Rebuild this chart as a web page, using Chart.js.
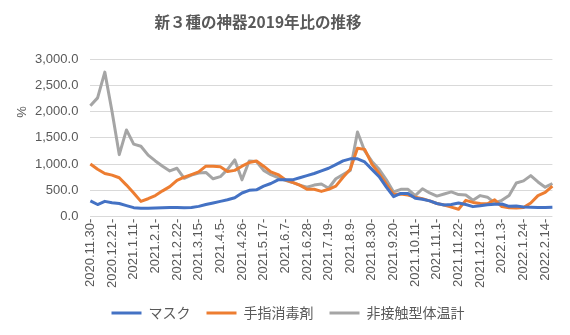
<!DOCTYPE html>
<html lang="ja">
<head>
  <meta charset="UTF-8" />
  <title>新３種の神器2019年比の推移</title>
  <script src="https://cdn.jsdelivr.net/npm/chart.js"></script>
  <style>
    body {
      margin: 0;
      background: #ffffff;
    }
    #chartBox {
      width: 570px;
      height: 335px;
    }
  </style>
</head>
<body>
  <div id="chartBox">
    <canvas id="trendChart"></canvas>
  </div>

  <script>
    const chartTitle = '新３種の神器2019年比の推移';
    const yTitle = '%';

    // weekly, every 3rd one is labelled
    const weeks = [
      '2020.11.30-', '2020.12.7-', '2020.12.14-', '2020.12.21-', '2020.12.28-',
      '2021.1.4-', '2021.1.11-', '2021.1.18-', '2021.1.25-', '2021.2.1-',
      '2021.2.8-', '2021.2.15-', '2021.2.22-', '2021.3.1-', '2021.3.8-',
      '2021.3.15-', '2021.3.22-', '2021.3.29-', '2021.4.5-', '2021.4.12-',
      '2021.4.19-', '2021.4.26-', '2021.5.3-', '2021.5.10-', '2021.5.17-',
      '2021.5.24-', '2021.5.31-', '2021.6.7-', '2021.6.14-', '2021.6.21-',
      '2021.6.28-', '2021.7.5-', '2021.7.12-', '2021.7.19-', '2021.7.26-',
      '2021.8.2-', '2021.8.9-', '2021.8.16-', '2021.8.23-', '2021.8.30-',
      '2021.9.6-', '2021.9.13-', '2021.9.20-', '2021.9.27-', '2021.10.4-',
      '2021.10.11-', '2021.10.18-', '2021.10.25-', '2021.11.1-', '2021.11.8-',
      '2021.11.15-', '2021.11.22-', '2021.11.29-', '2021.12.6-', '2021.12.13-',
      '2021.12.20-', '2021.12.27-', '2022.1.3-', '2022.1.10-', '2022.1.17-',
      '2022.1.24-', '2022.1.31-', '2022.2.7-', '2022.2.14-', '2022.2.21-'
    ];

    const seriesNames = ['マスク', '手指消毒剤', '非接触型体温計'];

    const mask = [
      300, 230, 290, 265, 250, 210, 170, 160, 160, 165,
      170, 175, 175, 170, 175, 195, 230, 260, 290, 320,
      360, 450, 500, 510, 580, 630, 700, 700, 700, 740,
      780, 820, 870, 920, 990, 1060, 1100, 1100, 1040, 900,
      760, 560, 380, 440, 440, 350, 330, 300, 250, 220,
      230, 260, 230, 190, 205, 225, 235, 240, 195, 200,
      185, 180, 175, 175, 180
    ];

    const sanitizer = [
      1000, 900, 820, 790, 740, 600, 450, 290, 340, 400,
      490, 570, 690, 750, 800, 850, 960, 960, 950, 860,
      880, 960, 1030, 1060, 960, 850, 800, 700, 650, 600,
      520, 520, 480, 520, 580, 750, 900, 1300, 1280, 1000,
      820, 620, 420, 430, 410, 370, 340, 300, 250, 220,
      180, 140, 310, 270, 250, 245, 320, 190, 170, 165,
      175, 260, 400, 460, 580
    ];

    const thermometer = [
      2110, 2260, 2750, 2000, 1180, 1650, 1380, 1340, 1170, 1060,
      960, 870, 920, 730, 790, 830, 840, 720, 760, 900,
      1080, 700, 1060, 1050, 880, 800, 740, 690, 650, 600,
      560, 600, 620, 540, 720, 800, 880, 1610, 1250, 1050,
      900, 700, 470, 520, 520, 400, 530, 450, 390, 430,
      470, 420, 410, 310, 400, 370, 260, 310, 400, 640,
      680, 780, 660, 560, 630
    ];

    const colors = ['#4472C4', '#ED7D31', '#A5A5A5'];
    const textColor = '#595959';

    // title and the rotated "%" sit where the spreadsheet put them
    const sheetTitle = {
      id: 'sheetTitle',
      afterDraw(chart) {
        const c = chart.ctx;
        c.save();
        c.fillStyle = textColor;
        c.textAlign = 'center';
        c.textBaseline = 'middle';
        c.font = 'bold 15.5px "Noto Sans CJK JP"';
        c.fillText(chartTitle, 258, 22);
        c.translate(22, 112);
        c.rotate(-Math.PI / 2);
        c.font = '13px "Liberation Sans"';
        c.fillText(yTitle, 0, 0);
        c.restore();
      }
    };

    function makeSet(label, data, color) {
      return {
        label: label,
        data: data,
        borderColor: color,
        backgroundColor: color,
        borderWidth: 3,
        pointRadius: 0,
        tension: 0,
        fill: false,
        borderJoinStyle: 'round'
      };
    }

    const ctx = document.getElementById('trendChart').getContext('2d');
    new Chart(ctx, {
      type: 'line',
      data: {
        labels: weeks,
        datasets: [
          makeSet(seriesNames[0], mask, colors[0]),
          makeSet(seriesNames[1], sanitizer, colors[1]),
          makeSet(seriesNames[2], thermometer, colors[2])
        ]
      },
      plugins: [sheetTitle],
      options: {
        responsive: true,
        maintainAspectRatio: false,
        animation: false,
        layout: {
          padding: { top: 59, left: 23, right: 17, bottom: 5 }
        },
        plugins: {
          title: { display: false },
          tooltip: { enabled: false },
          legend: {
            position: 'bottom',
            labels: {
              boxWidth: 30,
              boxHeight: 3,
              padding: 16,
              color: textColor,
              font: { family: '"Noto Sans CJK JP"', size: 14 },
              generateLabels(chart) {
                const items = Chart.defaults.plugins.legend.labels.generateLabels(chart);
                items.forEach(it => { it.lineWidth = 0; });
                return items;
              }
            }
          }
        },
        scales: {
          x: {
            grid: { display: false, drawTicks: false },
            border: { display: false },
            ticks: {
              autoSkip: false,
              minRotation: 90,
              maxRotation: 90,
              padding: 2,
              color: textColor,
              font: { family: '"Liberation Sans"', size: 13 },
              callback: function(value, index) {
                return index % 3 === 0 ? weeks[index] : '';
              }
            }
          },
          y: {
            min: 0,
            max: 3000,
            grid: { color: '#D9D9D9', lineWidth: 1, drawTicks: false },
            border: { display: false },
            ticks: {
              stepSize: 500,
              padding: 12,
              color: textColor,
              font: { family: '"Liberation Sans"', size: 13 },
              callback: function(value) {
                return value.toLocaleString('en-US', { minimumFractionDigits: 1, maximumFractionDigits: 1 });
              }
            }
          }
        }
      }
    });
  </script>
</body>
</html>
